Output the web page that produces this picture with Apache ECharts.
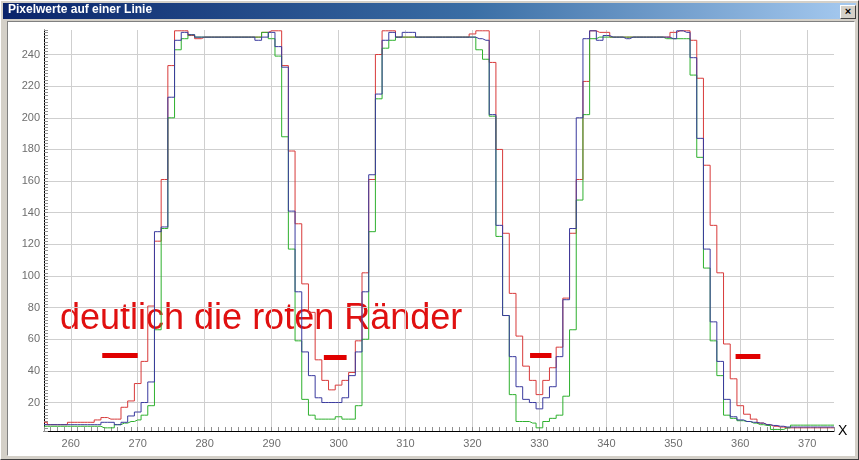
<!DOCTYPE html>
<html>
<head>
<meta charset="utf-8">
<script src="https://cdn.jsdelivr.net/npm/echarts@6/dist/echarts.min.js"></script>
<style>
  html, body { margin: 0; padding: 0; }
  body { width: 859px; height: 460px; background: #d4d0c8; position: relative; overflow: hidden; }
  .frame { position: absolute; left: 0; top: 0; width: 857px; height: 458px;
           border-top: 1px solid #ffffff; border-left: 1px solid #ffffff;
           border-right: 1px solid #404040; border-bottom: 1px solid #404040; }
  .titlebar { position: absolute; left: 3px; top: 3px; width: 853px; height: 16px;
              background: linear-gradient(to right, #0a246a, #3a6ea5 55%, #a6caf0); }
  .closebtn { position: absolute; left: 840px; top: 5px; width: 14px; height: 12px;
              background: #d4d0c8; border-top: 1px solid #fff; border-left: 1px solid #fff;
              border-right: 1px solid #404040; border-bottom: 1px solid #404040;
              font: bold 11px "Liberation Sans"; line-height: 11px; text-align: center; color: #000; }
  .panel { position: absolute; left: 7px; top: 21px; width: 846px; height: 433px; background: #ffffff;
           border-top: 1px solid #808080; border-left: 1px solid #808080;
           border-right: 1px solid #ffffff; border-bottom: 1px solid #ffffff; }
  #chart { position: absolute; left: 0; top: 0; width: 859px; height: 460px; }
</style>
</head>
<body>
<div class="frame"></div>
<div class="titlebar"></div>
<div class="closebtn">×</div>
<div class="panel"></div>
<div id="chart"></div>
<script>
// pixel position along the line (x) and grey values of the three channels
const xStart = 256
const xEnd = 374

const red = [
  7.5, 6, 6, 6, 7.5, 7.5, 7.5, 7.5, 9, 10.5,            // 256-265
  9.5, 9.5, 17, 21, 32, 46, 81, 122, 161, 233,          // 266-275
  255, 255, 252, 250, 251, 251, 251, 251, 251, 251,     // 276-285
  251, 251, 251, 254, 255, 255, 233, 179, 133, 95,      // 286-295
  77, 47, 34, 28, 31, 34, 39, 59, 102, 161,             // 296-305
  240, 255, 255, 251, 251, 251, 251, 251, 251, 251,     // 306-315
  251, 251, 251, 251, 253, 255, 255, 235, 180, 127,     // 316-325
  89, 62, 43, 34, 25, 34, 42, 55, 86, 127,              // 326-335
  161, 223, 255, 254, 254, 251, 251, 251, 251, 251,     // 336-345
  251, 251, 251, 251, 254, 255, 255, 249, 225, 170,     // 346-355
  132, 102, 57, 35, 18, 12.6, 9.5, 7, 6, 5,             // 356-365
  4.5, 4, 4, 4, 4, 4, 4, 4, 4                           // 366-374
]

const blue = [
  6, 6, 6, 6, 6, 6, 6, 6, 6, 7.5,
  7.5, 6, 7.5, 11.5, 14, 20, 33, 128, 131, 213,
  249, 254, 252.5, 251, 251, 251, 251, 251, 251, 251,
  251, 251, 249, 251, 254, 245, 232, 141, 90, 52,
  37, 23, 20, 20, 20, 23, 37, 52, 90, 164,
  215, 249, 254, 251, 254, 254, 251, 251, 251, 251,
  251, 251, 251, 251, 251, 250, 249, 202, 132, 75,
  49, 30, 22, 20, 16, 23, 30, 49, 85, 130,
  200, 250, 255, 249, 252, 251, 251, 250, 251, 251,
  251, 251, 251, 251, 250, 255, 254, 238, 187, 117,
  71, 46, 22, 11, 9, 8, 7.5, 7, 6, 5.5,
  5, 4.5, 4.5, 4.5, 4.5, 4.5, 4.5, 4.5, 4.5
]

const green = [
  5, 5, 5, 5, 5, 5, 5, 5, 5, 4,
  4, 6, 7, 8, 9, 12, 18, 66, 130, 200,
  243, 250, 252.5, 251, 251, 251, 251, 251, 251, 251,
  251, 251, 251, 254, 250, 239, 188, 117, 59, 22,
  12, 9.5, 9.5, 9.5, 11, 9.5, 9.5, 18, 60, 128,
  212, 244, 249, 251, 251, 251, 251, 251, 251, 251,
  251, 251, 251, 251, 251, 243, 237, 201, 125, 75,
  25, 8, 8, 7, 4, 8, 10, 12, 24, 66,
  148, 202, 250, 251, 251, 251, 251, 251, 251, 251,
  251, 251, 251, 250, 250, 250, 250, 227, 175, 105,
  59, 37, 12, 10, 8.5, 8, 7, 6, 5.5, 3,
  3, 4, 5.7, 5.7, 5.7, 5.7, 5.7, 5.7, 5.7
]

// red marker dashes: [x from, x to, level]
const dashes = [
  [264.7, 270.0, 49.7],
  [297.8, 301.2, 48.5],
  [328.6, 331.8, 50],
  [359.3, 363.0, 49.5]
]

const titleText = 'Pixelwerte auf einer Linie'
const noteText = 'deutlich die roten Ränder'

function pairs(vals) {
  return vals.map((v, i) => [xStart + i, v])
}

const chart = echarts.init(document.getElementById('chart'), null, { renderer: 'canvas' })

const labelFont = { color: '#6e6e6e', fontSize: 11, fontFamily: 'Liberation Sans' }

const option = {
  animation: false,
  backgroundColor: 'transparent',
  title: {
    text: titleText,
    left: 8,
    top: 4,
    padding: 0,
    textStyle: { color: '#ffffff', fontSize: 12, fontWeight: 'bold', fontFamily: 'Liberation Sans' }
  },
  grid: { left: 44, right: 25, top: 30, bottom: 29 },
  xAxis: [
    {
      type: 'value',
      min: xStart,
      max: xEnd,
      interval: 1,
      position: 'bottom',
      axisLine: { lineStyle: { color: '#000000', width: 1 } },
      axisTick: { inside: true, length: 4, lineStyle: { color: '#909090' } },
      axisLabel: Object.assign({ margin: 7, formatter: v => (v % 10 === 0 ? String(v) : '') }, labelFont),
      splitLine: { show: false },
      name: 'X',
      nameLocation: 'end',
      nameGap: 4,
      nameTextStyle: { color: '#000000', fontSize: 14, fontFamily: 'Liberation Sans' }
    },
    {
      type: 'value',
      min: xStart,
      max: xEnd,
      splitNumber: 12,
      axisLine: { show: false },
      axisTick: { show: false },
      axisLabel: { show: false },
      splitLine: { show: true, showMinLine: false, showMaxLine: false, lineStyle: { color: '#cfcfcf' } }
    }
  ],
  yAxis: [
    {
      type: 'value',
      min: 2,
      max: 255.5,
      interval: 2,
      position: 'left',
      axisLine: { show: true, lineStyle: { color: '#000000', width: 1 } },
      axisTick: { show: true, inside: true, length: 4, lineStyle: { color: '#909090' } },
      axisLabel: Object.assign({ margin: 4, formatter: v => (v % 20 === 0 ? String(v) : '') }, labelFont),
      splitLine: { show: false }
    },
    {
      type: 'value',
      min: 2,
      max: 255.5,
      splitNumber: 12,
      axisLine: { show: false },
      axisTick: { show: false },
      axisLabel: { show: false },
      splitLine: { show: true, showMinLine: false, showMaxLine: false, lineStyle: { color: '#cfcfcf' } }
    }
  ],
  graphic: [
    {
      type: 'text',
      left: 60,
      top: 301,
      style: { text: noteText, fill: '#e01010', font: '36px "Liberation Sans"' }
    }
  ],
  series: [
    {
      name: 'rot',
      type: 'line',
      step: 'middle',
      showSymbol: false,
      data: pairs(red),
      lineStyle: { color: '#d83a3a', width: 1 },
      markLine: {
        silent: true,
        symbol: 'none',
        label: { show: false },
        lineStyle: { color: '#e00000', width: 5, type: 'solid' },
        data: dashes.map(d => [{ coord: [d[0], d[2]] }, { coord: [d[1], d[2]] }])
      }
    },
    {
      name: 'grün',
      type: 'line',
      step: 'middle',
      showSymbol: false,
      data: pairs(green),
      lineStyle: { color: '#2eb02e', width: 1 }
    },
    {
      name: 'blau',
      type: 'line',
      step: 'middle',
      showSymbol: false,
      data: pairs(blue),
      lineStyle: { color: '#3a3a9e', width: 1 }
    }
  ]
}

chart.setOption(option)
</script>
</body>
</html>
